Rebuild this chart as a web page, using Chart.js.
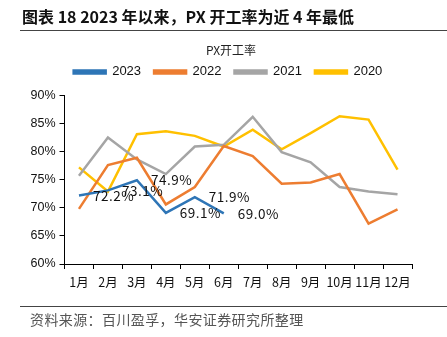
<!DOCTYPE html>
<html>
<head>
<meta charset="utf-8">
<script src="https://cdn.jsdelivr.net/npm/chart.js@4.4.1/dist/chart.umd.min.js"></script>
<style>
  html, body { margin: 0; padding: 0; background: #fff; }
  body { width: 447px; height: 337px; position: relative; overflow: hidden; font-family: "Noto Sans CJK SC", sans-serif; }
  #wrap { position: absolute; left: 0; top: 0; width: 447px; height: 337px; }
  .head { position: absolute; left: 22px; top: 4px; font-size: 16px; font-weight: bold; color: #111; white-space: nowrap; }
  .rule { position: absolute; left: 20px; right: 0; height: 1px; background: #444; }
  .src { position: absolute; left: 30px; top: 309px; font-size: 14px; color: #555; white-space: nowrap; letter-spacing: 0.4px; }
</style>
</head>
<body>
<div id="wrap"><canvas id="c" width="447" height="337"></canvas></div>
<div class="head">图表 18 2023 年以来，PX 开工率为近 4 年最低</div>
<div class="rule" style="top:30px"></div>
<div class="rule" style="top:306px"></div>
<div class="src">资料来源：百川盈孚，华安证券研究所整理</div>
<script>
const months = ['1月', '2月', '3月', '4月', '5月', '6月', '7月', '8月', '9月', '10月', '11月', '12月'];
const rate2023 = [72.2, 73.1, 74.9, 69.1, 71.9, 69.0];
const rate2022 = [69.8, 77.6, 78.9, 70.6, 73.7, 81.0, 79.2, 74.3, 74.5, 76.0, 67.2, 69.7];
const rate2021 = [75.7, 82.5, 78.6, 76.0, 80.9, 81.2, 86.2, 79.9, 78.1, 73.7, 72.9, 72.4];
const rate2020 = [77.2, 72.9, 83.1, 83.6, 82.8, 80.9, 83.9, 80.4, 83.3, 86.3, 85.7, 76.8];

const line = (label, data, color) => ({
  label, data,
  borderColor: color,
  backgroundColor: color,
  borderWidth: 2.5,
  pointRadius: 0,
  tension: 0
});

// values of the 2023 series printed beside each point
const pointLabels = {
  id: 'pointLabels',
  afterDatasetsDraw(chart) {
    const ctx = chart.ctx;
    const meta = chart.getDatasetMeta(0);
    ctx.save();
    ctx.font = '13.5px "Noto Sans CJK SC"';
    ctx.letterSpacing = '0.5px';
    ctx.fillStyle = '#111';
    ctx.textBaseline = 'middle';
    meta.data.forEach((pt, i) => {
      ctx.fillText(rate2023[i].toFixed(1) + '%', pt.x + 14, pt.y);
    });
    ctx.restore();
  }
};

// title and legend sit a bit right of the plot centre
const nudgeHeader = {
  id: 'nudgeHeader',
  afterLayout(chart) {
    chart.titleBlock.left += 16;
    chart.titleBlock.right += 16;
    chart.legend.left += 13;
    chart.legend.right += 13;
  }
};

const chart = new Chart(document.getElementById('c'), {
  type: 'line',
  data: {
    labels: months,
    datasets: [
      line('2023', rate2023, '#2E75B6'),
      line('2022', rate2022, '#ED7D31'),
      line('2021', rate2021, '#A5A5A5'),
      line('2020', rate2020, '#FFC000')
    ]
  },
  options: {
    responsive: false,
    animation: false,
    layout: { padding: { left: 18, right: 35, top: 43, bottom: 43 } },
    plugins: {
      title: {
        display: true,
        text: 'PX开工率',
        color: '#222',
        font: { size: 12, family: '"Noto Sans CJK SC"', weight: 'normal' },
        padding: { top: 0, bottom: -5 }
      },
      legend: {
        labels: {
          boxWidth: 32,
          boxHeight: 3,
          padding: 13,
          color: '#111',
          font: { size: 13, family: 'Arial, "Liberation Sans"' }
        }
      },
      tooltip: { enabled: false }
    },
    scales: {
      x: {
        offset: true,
        grid: { drawOnChartArea: false, offset: true, color: '#000', tickLength: 5 },
        border: { color: '#000' },
        ticks: { color: '#111', font: { size: 12.5, family: '"Noto Sans CJK SC"' }, padding: 6, maxRotation: 0, autoSkip: false },
        afterFit: s => { s.height = 30; }
      },
      y: {
        min: 60,
        max: 90,
        grid: { drawOnChartArea: false, color: '#000', tickLength: 5 },
        border: { color: '#000' },
        ticks: { stepSize: 5, color: '#111', font: { size: 12.5, family: 'Arial, "Liberation Sans"' }, padding: 4, callback: v => v + '%' },
        afterFit: s => { s.width = 46.5; }
      }
    }
  },
  plugins: [pointLabels, nudgeHeader]
});

// leave a little more room between the legend and the plot
const legendFit = chart.legend.fit;
chart.legend.fit = function () {
  legendFit.call(this);
  this.height += 7;
};
chart.update();
</script>
</body>
</html>
